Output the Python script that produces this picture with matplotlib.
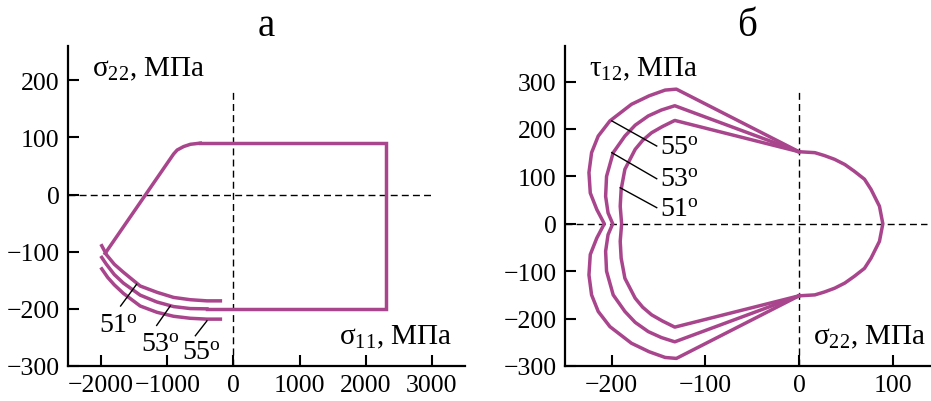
import matplotlib
matplotlib.use("Agg")
import matplotlib.pyplot as plt
import numpy as np

plt.rcParams['font.family'] = ['Liberation Serif', 'DejaVu Serif']
plt.rcParams['mathtext.fontset'] = 'custom'
plt.rcParams['mathtext.rm'] = 'Liberation Serif'
plt.rcParams['mathtext.it'] = 'Liberation Serif:italic'
plt.rcParams['mathtext.bf'] = 'Liberation Serif:bold'

COLOR = '#a8458c'

# ---------------- panel a data (sigma11, sigma22) ----------------
rect_x = [-500, 2300, 2300, -400]
rect_y = [90, 90, -200, -200]
corner_x = [-500, -650, -753, -850, -904, -1939]
corner_y = [90, 88, 84, 78, 71, -103]
a51_x = [-1990, -1914, -1800, -1662, -1409, -1156, -904, -652, -400, -197]
a51_y = [-89.5, -106, -122, -136, -160, -171, -180, -184, -186, -186]
a53_x = [-1990, -1920, -1800, -1662, -1409, -1156, -904, -652, -400]
a53_y = [-110, -122, -140, -155, -176, -188, -196, -199.5, -200]
a55_x = [-1990, -1900, -1800, -1662, -1409, -1156, -904, -652, -400, -197]
a55_y = [-130, -145, -158, -173, -195, -206, -213, -216.5, -218, -218]
a_xticks = [-2000, -1000, 0, 1000, 2000, 3000]
a_yticks = [-300, -200, -100, 0, 100, 200]

# ---------------- panel b data (sigma22, tau12), upper halves ----------------
lobe_x = [0, 17, 27, 38, 49, 59, 70, 77, 86, 89.6]
lobe_y = [152, 150, 144, 136, 125, 111, 94, 72.5, 37, 0]
b55_x = [0, -131, -143, -160, -179, -202, -214.5, -221.6, -224.4, -223, -216, -208]
b55_y = [152, 284, 282, 270, 252, 217, 185, 150, 108, 65, 30, 0]
b53_x = [0, -132.7, -147, -161, -175, -186, -198.5, -205.6, -206.6, -204, -199]
b53_y = [152, 249, 240, 227.5, 208, 185, 150, 100, 58, 23, 0]
b51_x = [0, -132.7, -146, -157.5, -167, -175, -186, -190, -191, -189.5]
b51_y = [152, 218, 205, 192, 176, 157, 115, 72.5, 37, 0]
b_xticks = [-200, -100, 0, 100]
b_yticks = [-300, -200, -100, 0, 100, 200, 300]

fig = plt.figure(figsize=(9.31, 4.02), dpi=100)
ax1 = fig.add_axes([68/931, 1-367/402, (465-68)/931, (367-47)/402])
ax2 = fig.add_axes([565/931, 1-367/402, (930-565)/931, (367-47)/402])

LW = 2.5
TICKFS = 18.5
LABFS = 21
ANGFS = 20
for ax in (ax1, ax2):
    ax.spines['top'].set_visible(False)
    ax.spines['right'].set_visible(False)
    ax.spines['left'].set_linewidth(1.6)
    ax.spines['bottom'].set_linewidth(1.6)
    ax.tick_params(direction='in', length=8, width=1.5, labelsize=TICKFS)
    ax.tick_params(axis='x', pad=6)
    ax.tick_params(axis='y', pad=6)

dash = (0, (5, 3))

# ---- panel a ----
ax1.set_xlim(-2500, 3500)
ax1.set_ylim(-300, 260)
ax1.set_xticks(a_xticks)
ax1.set_yticks(a_yticks)
ax1.plot([-2500, 3000], [0, 0], color='black', lw=1, linestyle=dash)
ax1.plot([0, 0], [-300, 180], color='black', lw=1, linestyle=dash)
ax1.plot(rect_x, rect_y, color=COLOR, lw=LW, solid_joinstyle='miter')
ax1.plot(corner_x, corner_y, color=COLOR, lw=LW, solid_joinstyle='round')
for xs, ys in ((a51_x, a51_y), (a53_x, a53_y), (a55_x, a55_y)):
    ax1.plot(xs, ys, color=COLOR, lw=LW, solid_joinstyle='round')
ax1.plot([-1463, -1705], [-157, -195], color='black', lw=1)
ax1.plot([-955, -1160], [-195, -229], color='black', lw=1)
ax1.plot([-400, -575], [-221, -247], color='black', lw=1)
ax1.text(-2030, -241, '51$^{\\mathrm{o}}$', fontsize=ANGFS, ha='left', va='baseline')
ax1.text(-1400, -274, '53$^{\\mathrm{o}}$', fontsize=ANGFS, ha='left', va='baseline')
ax1.text(-780, -288, '55$^{\\mathrm{o}}$', fontsize=ANGFS, ha='left', va='baseline')
ax1.text(-2141, 209, 'σ$_{22}$, МПа', fontsize=LABFS, ha='left', va='baseline')
ax1.text(1590, -260, 'σ$_{11}$, МПа', fontsize=LABFS, ha='left', va='baseline')
ax1.set_title('а', fontsize=28, pad=8)

# ---- panel b ----
ax2.set_xlim(-250, 140)
ax2.set_ylim(-300, 375)
ax2.set_xticks(b_xticks)
ax2.set_yticks(b_yticks)
ax2.plot([-250, 137], [0, 0], color='black', lw=1, linestyle=dash)
ax2.plot([0, 0], [-300, 280], color='black', lw=1, linestyle=dash)
lx = np.array(lobe_x)
ly = np.array(lobe_y)
ax2.plot(np.concatenate([lx, lx[::-1]]), np.concatenate([ly, -ly[::-1]]),
         color=COLOR, lw=LW, solid_joinstyle='round')
for xs, ys in ((b55_x, b55_y), (b53_x, b53_y), (b51_x, b51_y)):
    xs = np.array(xs)
    ys = np.array(ys)
    ax2.plot(np.concatenate([xs, xs[::-1]]), np.concatenate([ys, -ys[::-1]]),
             color=COLOR, lw=LW, solid_joinstyle='round')
ax2.plot([-200, -152], [217, 164], color='black', lw=1)
ax2.plot([-200, -152], [150, 95], color='black', lw=1)
ax2.plot([-191, -152], [76, 34], color='black', lw=1)
ax2.text(-149, 146.5, '55$^{\\mathrm{o}}$', fontsize=ANGFS, ha='left', va='baseline')
ax2.text(-149, 79.5, '53$^{\\mathrm{o}}$', fontsize=ANGFS, ha='left', va='baseline')
ax2.text(-149, 16, '51$^{\\mathrm{o}}$', fontsize=ANGFS, ha='left', va='baseline')
ax2.text(-224, 312, 'τ$_{12}$, МПа', fontsize=LABFS, ha='left', va='baseline')
ax2.text(15, -253, 'σ$_{22}$, МПа', fontsize=LABFS, ha='left', va='baseline')
ax2.set_title('б', fontsize=28, pad=8)

fig.savefig('out.png', dpi=100)
